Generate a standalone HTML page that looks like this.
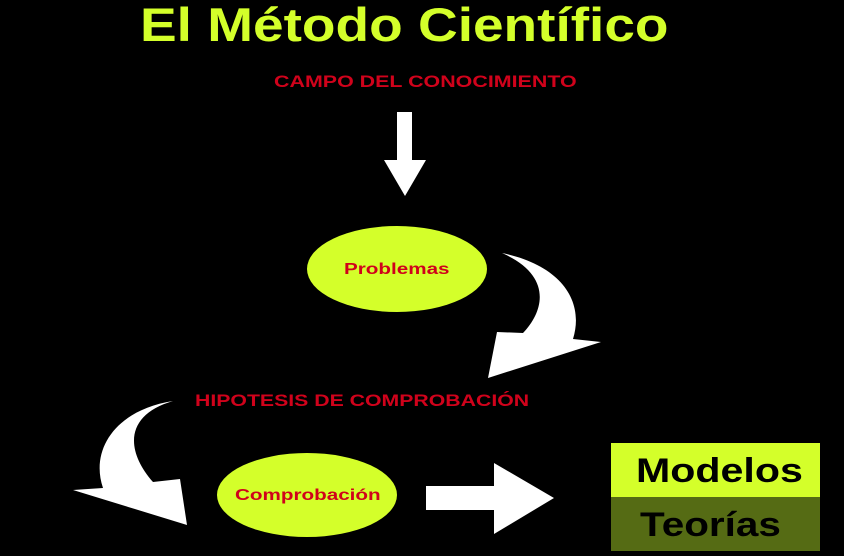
<!DOCTYPE html>
<html><head><meta charset="utf-8"><style>
html,body{margin:0;padding:0;background:#000;}
body{width:844px;height:556px;position:relative;overflow:hidden;font-family:"Liberation Sans",sans-serif;}
.t{position:absolute;white-space:nowrap;font-weight:bold;transform-origin:0 0;}
</style></head><body>
<svg width="844" height="556" style="position:absolute;left:0;top:0">
<polygon points="397,112 412,112 412,160 426,160 405,196 384,160 397,160" fill="#fff"/>
<path d="M502,253 C560,265 585,300 573,339 L601,342 L488,378 L497,332 L523,333 C545,310 552,275 502,253 Z" fill="#fff"/>
<path d="M173,401 C115,410 90,450 103,488 L73,490 L187,525 L180,479 L153,482 C125,450 125,415 173,401 Z" fill="#fff"/>
<polygon points="426,486 494,486 494,463 554,498 494,534 494,510 426,510" fill="#fff"/>
<ellipse cx="397" cy="269" rx="90" ry="43" fill="#d4ff2a"/>
<ellipse cx="307" cy="495" rx="90" ry="42" fill="#d4ff2a"/>
<rect x="611" y="443" width="209" height="54" fill="#d4ff2a"/>
<rect x="611" y="497" width="209" height="54" fill="#556b14"/>
</svg>
<div class="t" style="left:140px;top:-3px;font-size:47px;color:#d4ff2a;transform:scaleX(1.17)">El Método Científico</div>
<div class="t" style="left:274px;top:72px;font-size:17px;color:#d0021b;transform:scaleX(1.26)">CAMPO DEL CONOCIMIENTO</div>
<div class="t" style="left:344px;top:261px;font-size:16px;color:#d0021b;transform:scaleX(1.29)">Problemas</div>
<div class="t" style="left:195px;top:391px;font-size:17px;color:#d0021b;transform:scaleX(1.25)">HIPOTESIS DE COMPROBACIÓN</div>
<div class="t" style="left:235px;top:487px;font-size:16px;color:#d0021b;transform:scaleX(1.29)">Comprobación</div>
<div class="t" style="left:636px;top:452px;font-size:34px;color:#000;transform:scaleX(1.21)">Modelos</div>
<div class="t" style="left:640px;top:506px;font-size:34px;color:#000;transform:scaleX(1.19)">Teorías</div>
</body></html>
